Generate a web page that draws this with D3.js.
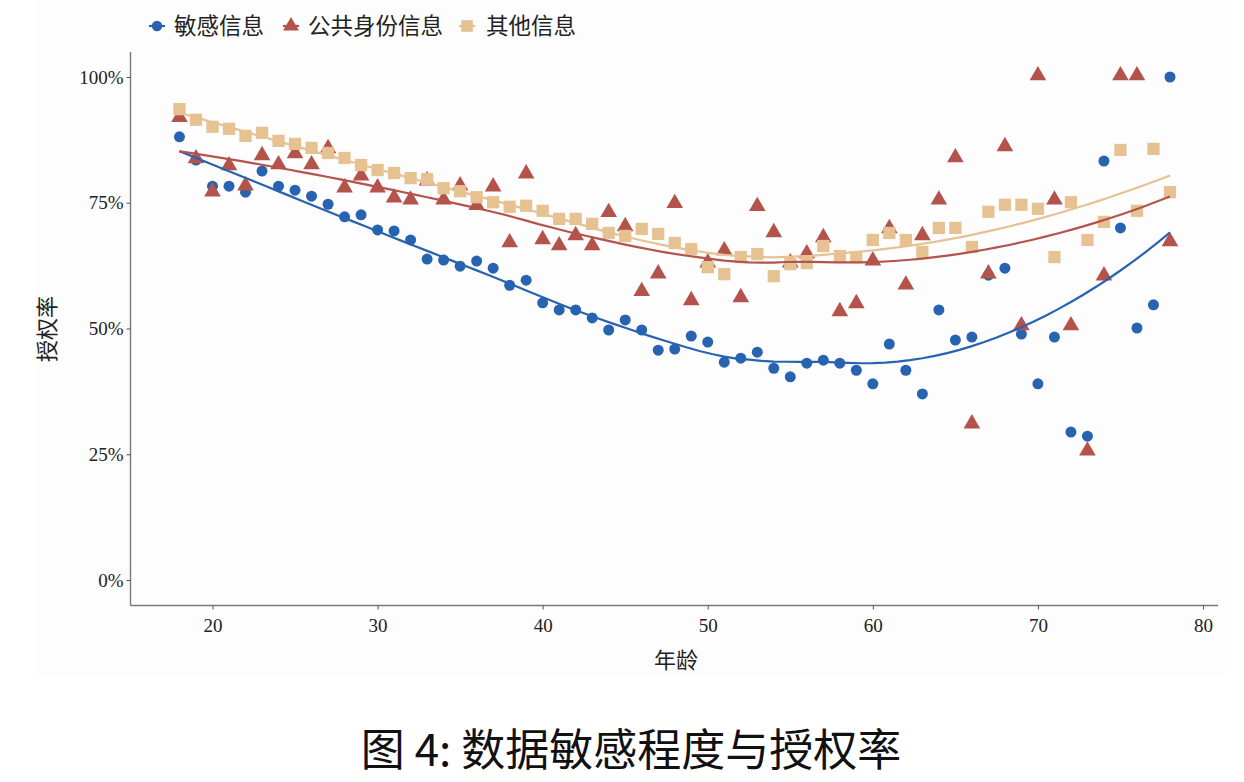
<!DOCTYPE html>
<html><head><meta charset="utf-8">
<script src="https://cdn.jsdelivr.net/npm/d3@7"></script>
<style>
html,body{margin:0;padding:0;background:#fff;}
svg{display:block;}
</style></head>
<body>
<svg id="chart" width="1244" height="782"></svg>
<script>
// ---- data ----
const ages = d3.range(18, 79);
const seriesNames = ["敏感信息", "公共身份信息", "其他信息"];
const sensitive = [0.881,0.835,0.783,0.783,0.771,0.813,0.783,0.775,0.763,0.747,
  0.722,0.726,0.696,0.694,0.676,0.638,0.636,0.624,0.634,0.620,
  0.586,0.596,0.551,0.537,0.537,0.521,0.497,0.517,0.497,0.457,
  0.459,0.485,0.473,0.433,0.441,0.453,0.421,0.404,0.431,0.437,
  0.431,0.417,0.390,0.469,0.417,0.370,0.537,0.477,0.483,0.606,
  0.620,0.489,0.390,0.483,0.294,0.286,0.833,0.700,0.501,0.547,1.000];
const publicId = [0.917,0.835,0.769,0.821,0.781,0.841,0.823,0.845,0.823,0.855,
  0.777,0.801,0.777,0.757,0.753,0.791,0.753,0.781,0.742,0.779,
  0.668,0.805,0.674,0.662,0.682,0.662,0.728,0.700,0.571,0.606,
  0.746,0.553,0.628,0.652,0.559,0.740,0.688,0.628,0.646,0.678,
  0.531,0.547,0.632,0.696,0.584,0.682,0.753,0.837,0.308,0.606,
  0.859,0.503,1.000,0.753,0.503,0.254,0.602,1.000,1.000,null,0.670];
const other = [0.936,0.915,0.901,0.897,0.883,0.889,0.873,0.867,0.859,0.849,
  0.839,0.825,0.815,0.809,0.799,0.797,0.779,0.773,0.761,0.751,
  0.742,0.744,0.734,0.718,0.718,0.708,0.690,0.684,0.698,0.688,
  0.670,0.658,0.622,0.608,0.642,0.648,0.604,0.628,0.630,0.664,
  0.644,0.642,0.676,0.690,0.676,0.652,0.700,0.700,0.662,0.732,
  0.746,0.746,0.738,0.642,0.751,0.676,0.712,0.855,0.734,0.857,0.771];
const xTicks = [20, 30, 40, 50, 60, 70, 80];
const yTicks = [0, 0.25, 0.5, 0.75, 1.0];
const xLabel = "年龄";
const yLabel = "授权率";
const caption = "图 4: 数据敏感程度与授权率";

const colors = ["#2763b0", "#b4534b", "#e6c293"];
const shapes = [d3.symbolCircle, d3.symbolTriangle, d3.symbolSquare];
const shapeSizes = [95, 120, 150];

// ---- loess (degree 2, span 0.75, tricube) ----
function loess(xs, ys, span, grid) {
  const pts = xs.map((x, i) => [x, ys[i]]).filter(p => p[1] != null);
  const n = pts.length, q = Math.floor(n * span + 1e-5);
  return grid.map(x0 => {
    const dists = pts.map(p => Math.abs(p[0] - x0)).sort((a, b) => a - b);
    const h = dists[q - 1];
    let S = [[0,0,0],[0,0,0],[0,0,0]], b = [0,0,0];
    pts.forEach(([x, y]) => {
      const u = Math.abs(x - x0) / h;
      if (u >= 1) return;
      const w = Math.pow(1 - u*u*u, 3);
      const v = [1, x - x0, (x - x0)*(x - x0)];
      for (let i = 0; i < 3; i++) {
        b[i] += w * v[i] * y;
        for (let j = 0; j < 3; j++) S[i][j] += w * v[i] * v[j];
      }
    });
    const A = S.map((r, i) => [...r, b[i]]);
    for (let c = 0; c < 3; c++) {
      let p = c;
      for (let r = c+1; r < 3; r++) if (Math.abs(A[r][c]) > Math.abs(A[p][c])) p = r;
      [A[c], A[p]] = [A[p], A[c]];
      for (let r = c+1; r < 3; r++) {
        const f = A[r][c] / A[c][c];
        for (let k = c; k < 4; k++) A[r][k] -= f * A[c][k];
      }
    }
    const sol = [0,0,0];
    for (let r = 2; r >= 0; r--) {
      let s = A[r][3];
      for (let k = r+1; k < 3; k++) s -= A[r][k] * sol[k];
      sol[r] = s / A[r][r];
    }
    return [x0, sol[0]];
  });
}

// ---- layout ----
const svg = d3.select("#chart");
svg.append("rect").attr("x", 35).attr("y", 0).attr("width", 1190).attr("height", 676)
  .attr("fill", "#fdfdfd");

const x = d3.scaleLinear().domain([20, 80]).range([212.5, 1203]);
const y = d3.scaleLinear().domain([0, 1]).range([580, 77]);
const left = 130.5, bottom = 605.5, right = 1218;

const numFont = "'Liberation Serif', 'DejaVu Serif', serif";
const cjkFont = "'Noto Sans CJK SC', sans-serif";

// axes
const xAxis = svg.append("g").attr("transform", `translate(0,${bottom})`)
  .call(d3.axisBottom(x).tickValues(xTicks).tickSize(4).tickPadding(4).tickFormat(d3.format("d")));
xAxis.select(".domain").attr("d", `M${left},0H${right}`);
const yAxis = svg.append("g").attr("transform", `translate(${left},0)`)
  .call(d3.axisLeft(y).tickValues(yTicks).tickSize(4).tickPadding(3).tickFormat(d3.format(".0%")));
yAxis.select(".domain").attr("d", `M0,52V${bottom}`);
[xAxis, yAxis].forEach(g => {
  g.select(".domain").attr("stroke", "#7a7a7a").attr("stroke-width", 1.4);
  g.selectAll(".tick line").attr("stroke", "#555").attr("stroke-width", 1);
  g.selectAll(".tick text").attr("fill", "#222").style("font-family", numFont).style("font-size", "19px");
});
xAxis.selectAll(".tick text").attr("dy", "0.95em");

// axis titles
svg.append("text").attr("x", 676).attr("y", 668).attr("text-anchor", "middle")
  .style("font-family", cjkFont).style("font-size", "22px").attr("fill", "#222").text(xLabel);
svg.append("text").attr("transform", "translate(55,329) rotate(-90)").attr("text-anchor", "middle")
  .style("font-family", cjkFont).style("font-size", "22px").attr("fill", "#222").text(yLabel);

// points
const allSeries = [sensitive, publicId, other];
const grid = d3.range(0, 81).map(i => 18 + i * 60 / 80);
const line = d3.line().x(d => x(d[0])).y(d => y(d[1]));

allSeries.forEach((vals, si) => {
  const g = svg.append("g");
  g.selectAll("path.pt").data(ages.map((a, i) => [a, vals[i]]).filter(d => d[1] != null))
    .enter().append("path").attr("class", "pt")
    .attr("d", d3.symbol().type(shapes[si]).size(shapeSizes[si]))
    .attr("transform", d => `translate(${x(d[0])},${y(d[1]) - (si === 1 ? 1.5 : 0)})`)
    .attr("fill", colors[si]);
});
// smooth curves
allSeries.forEach((vals, si) => {
  svg.append("path").datum(loess(ages, vals, 0.75, grid))
    .attr("d", line).attr("fill", "none").attr("stroke", colors[si]).attr("stroke-width", 2.2);
});

// legend
const legendItems = [{sx: 157, tx: 174}, {sx: 291, tx: 308}, {sx: 467, tx: 486}];
legendItems.forEach((it, i) => {
  svg.append("line").attr("x1", it.sx - 8).attr("x2", it.sx + 8).attr("y1", 26).attr("y2", 26)
    .attr("stroke", colors[i]).attr("stroke-width", 2.2);
  svg.append("path").attr("d", d3.symbol().type(shapes[i]).size(shapeSizes[i] * 0.9))
    .attr("transform", `translate(${it.sx},26)`).attr("fill", colors[i]);
  svg.append("text").attr("x", it.tx).attr("y", 34).style("font-family", cjkFont)
    .style("font-size", "22.5px").attr("fill", "#222").text(seriesNames[i]);
});

// caption
svg.append("text").attr("x", 631).attr("y", 766).attr("text-anchor", "middle")
  .style("font-family", cjkFont).style("font-size", "44px").attr("fill", "#111").text(caption);
</script>
</body></html>
